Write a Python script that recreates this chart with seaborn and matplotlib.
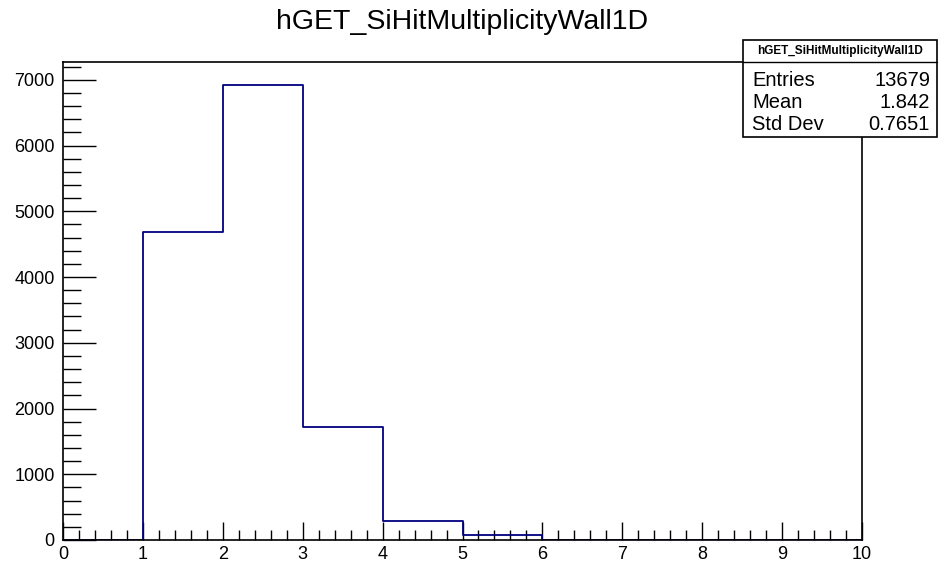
import numpy as np
import pandas as pd
import seaborn as sns
import matplotlib
matplotlib.use("Agg")
import matplotlib.pyplot as plt
from matplotlib.ticker import MultipleLocator

# Data
bin_edges = [0, 1, 2, 3, 4, 5, 6, 7, 8, 9, 10]
bin_lows = [0, 1, 2, 3, 4, 5, 6, 7, 8, 9]
counts = [0, 4680, 6925, 1715, 290, 69, 0, 0, 0, 0]
title = "hGET_SiHitMultiplicityWall1D"
stat_names = ["Entries", "Mean", "Std Dev"]
stat_values = ["13679", "1.842", "0.7651"]

sns.set_style("white")
plt.rcParams['font.family'] = ['Liberation Sans', 'DejaVu Sans']
plt.rcParams['text.color'] = 'black'
plt.rcParams['xtick.color'] = 'black'
plt.rcParams['ytick.color'] = 'black'
plt.rcParams['axes.labelcolor'] = 'black'

fig = plt.figure(figsize=(9.39, 5.61), dpi=100)
ax = fig.add_axes([63/939, 21/561, (862-63)/939, (540-62)/561])

df = pd.DataFrame({"x": [b + 0.5 for b in bin_lows], "w": counts})
sns.histplot(data=df, x="x", weights="w", bins=bin_edges, element="step",
             fill=False, color="#000080", linewidth=1.3, ax=ax)

ax.set_xlim(0, 10)
ax.set_ylim(0, max(counts) * 1.05)
ax.set_xlabel("")
ax.set_ylabel("")
for s in ax.spines.values():
    s.set_color("black")
    s.set_linewidth(1.2)

ax.xaxis.set_major_locator(MultipleLocator(1))
ax.xaxis.set_minor_locator(MultipleLocator(0.2))
ax.yaxis.set_major_locator(MultipleLocator(1000))
ax.yaxis.set_minor_locator(MultipleLocator(200))
ax.tick_params(axis='x', which='major', direction='in', length=13, width=1, labelsize=13, pad=4,
               top=False, bottom=True, colors='black')
ax.tick_params(axis='x', which='minor', direction='in', length=7, width=1, top=False, bottom=True,
               colors='black')
ax.tick_params(axis='y', which='major', direction='in', length=24, width=1, labelsize=13, pad=6,
               left=True, right=False, colors='black')
ax.tick_params(axis='y', which='minor', direction='in', length=13, width=1, left=True, right=False,
               colors='black')

fig.text(462/939, 1 - 22/561, title, ha='center', va='center', fontsize=20.5, color='black')

# Stats box
x0, x1 = 743/939, 937/939
y_top, y_head, y_bot = 1 - 40/561, 1 - 62/561, 1 - 137/561
box = plt.Rectangle((x0, y_bot), x1 - x0, y_top - y_bot, transform=fig.transFigure,
                    facecolor='white', edgecolor='black', linewidth=1.2, zorder=10)
fig.add_artist(box)
fig.add_artist(plt.Line2D([x0, x1], [y_head, y_head], transform=fig.transFigure,
                          color='black', linewidth=1.0, zorder=11))
fig.text((x0 + x1) / 2, (y_top + y_head) / 2, title, ha='center', va='center',
         fontsize=8.5, fontweight='bold', zorder=12, color='black')
rows_y = [80, 102, 124]
for name, val, yy in zip(stat_names, stat_values, rows_y):
    fig.text(752/939, 1 - yy/561, name, ha='left', va='center', fontsize=14.5, zorder=12, color='black')
    fig.text(930/939, 1 - yy/561, val, ha='right', va='center', fontsize=14.5, zorder=12, color='black')

fig.savefig("out.png", dpi=100)
